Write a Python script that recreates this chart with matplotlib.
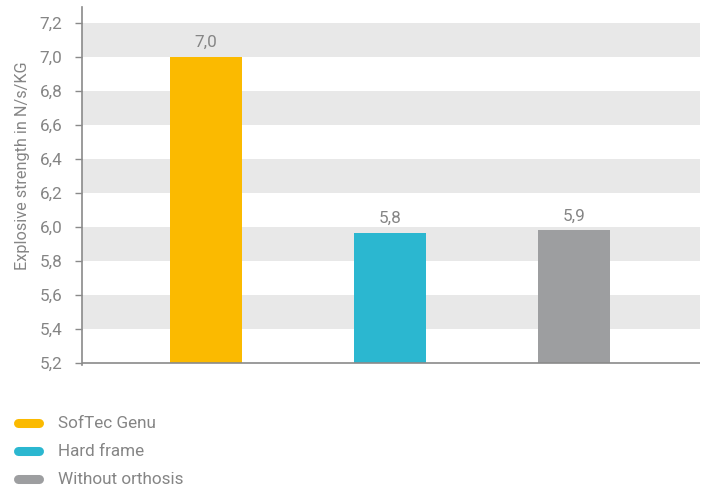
import matplotlib
matplotlib.use("Agg")
import matplotlib.pyplot as plt
from matplotlib.lines import Line2D

categories = ["SofTec Genu", "Hard frame", "Without orthosis"]
values = [7.0, 5.965, 5.98]
value_labels = ["7,0", "5,8", "5,9"]
colors = ["#FBBA00", "#2BB7D0", "#9D9EA0"]
yticks = [5.2, 5.4, 5.6, 5.8, 6.0, 6.2, 6.4, 6.6, 6.8, 7.0, 7.2]
ytick_labels = ["5,2", "5,4", "5,6", "5,8", "6,0", "6,2", "6,4", "6,6", "6,8", "7,0", "7,2"]
ylabel = "Explosive strength in N/s/KG"

plt.rcParams['font.family'] = ['Roboto', 'DejaVu Sans']
txt = "#858585"
axc = "#8a8a8a"

fig = plt.figure(figsize=(7.05, 4.91), dpi=100)
ax = fig.add_axes([82/705, 1 - 365.5/491, 618/705, (365.5 - 6.85)/491])

ymin, ymax = 5.2, 7.2
ax.set_ylim(5.185, 7.295)
ax.set_xlim(-0.674, 2.685)

# alternating bands
for i in range(len(yticks) - 1):
    lo, hi = yticks[i], yticks[i + 1]
    if i % 2 == 1:
        ax.axhspan(lo, hi, color="#E8E8E8", lw=0, zorder=0)

x = list(range(len(categories)))
ax.bar(x, [v - ymin for v in values], bottom=ymin, width=0.39, color=colors, zorder=2)
for xi, v, lab in zip(x, values, value_labels):
    ax.annotate(lab, (xi, v), xytext=(0, 5), textcoords="offset points",
                ha="center", va="bottom", color=txt, fontsize=12.3)

ax.axhline(ymin, color=axc, lw=1.2, zorder=3)
ax.set_yticks(yticks)
ax.set_yticklabels(ytick_labels)
ax.tick_params(axis="y", colors=axc, labelcolor=txt, labelsize=12.3, length=5, width=1, pad=9)
ax.set_xticks([])
for s in ["top", "right", "bottom"]:
    ax.spines[s].set_visible(False)
ax.spines["left"].set_color(axc)
ax.spines["left"].set_linewidth(1.2)
ax.set_ylabel(ylabel, color=txt, fontsize=11.7)
ax.yaxis.set_label_coords(-0.084, 0.556)

# legend
ys = [423, 451, 479]
for cat, c, yy in zip(categories, colors, ys):
    yf = 1 - yy / 491
    fig.add_artist(Line2D([18/705, 39/705], [yf, yf], color=c, lw=6.5,
                          solid_capstyle="round", transform=fig.transFigure))
    fig.text(58/705, yf, cat, color=txt, fontsize=12.3,
             va="center", ha="left")

fig.savefig("out.png", dpi=100)
